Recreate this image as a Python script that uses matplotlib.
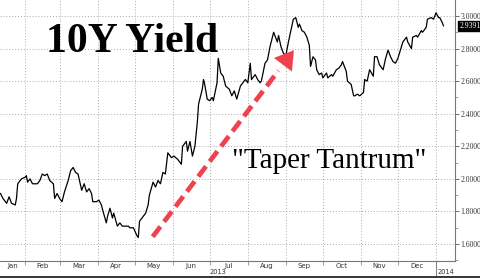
import matplotlib
matplotlib.use("Agg")
import matplotlib.pyplot as plt
import matplotlib.dates as mdates
import matplotlib.ticker as mticker
import matplotlib.transforms as mtrans
import pandas as pd

# days since 2013-01-01 and 10Y yield (%)
day = [11, 13, 16, 18, 20, 23, 24, 25, 28, 31,
       32, 33, 35, 37, 41, 43, 45, 47, 49, 51,
       54, 55, 57, 59, 61, 63, 66, 68, 70, 72,
       74, 77, 79, 81, 83, 85, 86, 89, 91, 93,
       94, 97, 98, 100, 102, 103, 106, 108, 110, 112,
       115, 116, 119, 122, 123, 124, 127, 129, 131, 132,
       135, 137, 139, 141, 143, 145, 147, 150, 152, 155,
       158, 159, 162, 163, 165, 167, 169, 171, 172, 175,
       176, 177, 179, 181, 183, 184, 187, 188, 190, 192,
       194, 197, 199, 201, 203, 206, 208, 210, 212, 214,
       215, 218, 220, 222, 223, 226, 228, 230, 232, 233,
       236, 237, 239, 241, 243, 245, 247, 249, 251, 253,
       254, 256, 258, 260, 262, 263, 265, 267, 268, 270,
       272, 273, 276, 277, 280, 281, 284, 286, 288, 289,
       292, 293, 296, 298, 299, 301, 303, 306, 307, 309,
       311, 314, 315, 317, 319, 320, 322, 324, 326, 328,
       330, 332, 334, 336, 338, 341, 342, 345, 346, 349,
       350, 353, 354, 357, 358, 361, 363, 365, 367, 368,
       370, 371]
yld = [1.91, 1.88, 1.85, 1.89, 1.85, 1.84, 1.88, 1.97, 2.00, 2.01,
       2.02, 1.98, 2.00, 1.97, 1.97, 1.99, 2.03, 2.02, 2.03, 1.99,
       1.97, 1.88, 1.91, 1.88, 1.86, 1.92, 1.99, 2.05, 2.07, 2.04,
       2.03, 1.93, 1.97, 1.92, 1.94, 1.91, 1.86, 1.86, 1.87, 1.84,
       1.81, 1.73, 1.77, 1.82, 1.76, 1.79, 1.71, 1.73, 1.71, 1.71,
       1.71, 1.70, 1.70, 1.65, 1.64, 1.74, 1.77, 1.79, 1.84, 1.90,
       1.98, 1.95, 1.99, 1.97, 2.04, 2.03, 2.16, 2.13, 2.14, 2.12,
       2.09, 2.20, 2.23, 2.17, 2.23, 2.14, 2.20, 2.35, 2.46, 2.55,
       2.61, 2.58, 2.49, 2.48, 2.50, 2.48, 2.59, 2.74, 2.65, 2.63,
       2.57, 2.55, 2.51, 2.54, 2.49, 2.57, 2.59, 2.61, 2.59, 2.71,
       2.61, 2.64, 2.61, 2.59, 2.60, 2.71, 2.73, 2.81, 2.87, 2.90,
       2.84, 2.88, 2.81, 2.77, 2.76, 2.84, 2.91, 2.98, 2.99, 2.93,
       2.95, 2.91, 2.90, 2.87, 2.82, 2.69, 2.75, 2.73, 2.67, 2.64,
       2.65, 2.62, 2.65, 2.62, 2.64, 2.63, 2.67, 2.68, 2.70, 2.72,
       2.66, 2.60, 2.58, 2.51, 2.51, 2.52, 2.51, 2.53, 2.61, 2.60,
       2.67, 2.63, 2.75, 2.75, 2.70, 2.69, 2.67, 2.74, 2.79, 2.75,
       2.72, 2.71, 2.74, 2.79, 2.84, 2.87, 2.84, 2.80, 2.87, 2.88,
       2.87, 2.91, 2.90, 2.93, 2.98, 2.99, 2.98, 3.02, 2.99, 2.99,
       2.96, 2.94]

months = ["Jan", "Feb", "Mar", "Apr", "May", "Jun",
          "Jul", "Aug", "Sep", "Oct", "Nov", "Dec"]
years = ["2013", "2014"]
last_label = "2.9391"
title = "10Y Yield"
note = "\"Taper Tantrum\""
# arrow: (days since 2013-01-01, yield) for tail and tip
arrow_tail = (134.7, 1.645)
arrow_tip = (249.5, 2.79)

base = pd.Timestamp("2013-01-01")
dates = base + pd.to_timedelta(day, unit="D")
x0 = mdates.date2num(base + pd.Timedelta(days=10.6))
x1 = mdates.date2num(base + pd.Timedelta(days=380.4))
bounds = mdates.date2num(pd.date_range("2013-02-01", "2014-01-01", freq="MS"))

fig = plt.figure(figsize=(4.8, 2.78), dpi=100)
ax = fig.add_axes([0, 17 / 278, 455 / 480, 261 / 278])

ax.plot(dates, yld, color="black", lw=0.9)
ax.set_xlim(x0, x1)
ax.set_ylim(1.496, 3.098)

# grid / spines
for s in ["top", "left"]:
    ax.spines[s].set_visible(False)
for s in ["right", "bottom"]:
    ax.spines[s].set_color("#777777")
    ax.spines[s].set_linewidth(0.8)
ax.grid(True, which="major", color="#aaaaaa", linestyle=(0, (1, 2)), lw=0.7)

# y axis on right
ax.yaxis.tick_right()
ax.yaxis.set_major_locator(mticker.MultipleLocator(0.2))
ax.yaxis.set_minor_locator(mticker.MultipleLocator(0.1))
ax.yaxis.set_major_formatter(mticker.FormatStrFormatter("%.4f"))
ax.tick_params(axis="y", which="major", length=3, width=0.6, color="#555555",
               labelsize=5.5, pad=1, labelcolor="#333333")
ax.tick_params(axis="y", which="minor", length=2, width=0.5, color="#777777")
for lab in ax.get_yticklabels():
    lab.set_family("Liberation Serif")

# x axis: ticks at month starts, labels centred in each month
ax.xaxis.set_major_locator(mticker.FixedLocator(bounds))
ax.xaxis.set_major_formatter(mticker.NullFormatter())
edges = [x0] + list(bounds)
mids = [(a + b) / 2 for a, b in zip(edges[:-1], edges[1:])]
ax.xaxis.set_minor_locator(mticker.FixedLocator(mids))
ax.xaxis.set_minor_formatter(mticker.FixedFormatter(months))
ax.tick_params(axis="x", which="major", length=3, width=0.5, color="#777777")
ax.tick_params(axis="x", which="minor", length=0, labelsize=5, pad=1.5,
               labelcolor="#333333")

trans = mtrans.blended_transform_factory(ax.transData, ax.transAxes)
ax.text((x0 + bounds[-1]) / 2, -0.043, years[0], transform=trans, ha="center",
        va="center", fontsize=4.8, color="#333333")
ax.text((bounds[-1] + x1) / 2, -0.043, years[1], transform=trans, ha="center",
        va="center", fontsize=4.8, color="#333333")
ax.plot([bounds[-1], bounds[-1]], [0, -0.07], transform=trans, clip_on=False,
        color="#888888", lw=0.8)

# last value badge
ax.annotate(last_label, xy=(1, yld[-1]),
            xycoords=mtrans.blended_transform_factory(ax.transAxes, ax.transData),
            xytext=(3, 0), textcoords="offset points", ha="left", va="center",
            fontsize=5.5, color="white", family="Liberation Serif",
            bbox=dict(boxstyle="square,pad=0.15", fc="black", ec="black"),
            annotation_clip=False)

# red dashed arrow
red = "#f0424e"
tx = mdates.date2num(base + pd.Timedelta(days=arrow_tail[0]))
hx = mdates.date2num(base + pd.Timedelta(days=arrow_tip[0]))
ax.plot([tx, tx + 0.89 * (hx - tx)],
        [arrow_tail[1], arrow_tail[1] + 0.89 * (arrow_tip[1] - arrow_tail[1])],
        color=red, lw=3.4, dashes=(2.7, 1.3), solid_capstyle="butt")
ax.annotate("", xy=(hx, arrow_tip[1]),
            xytext=(tx + 0.86 * (hx - tx),
                    arrow_tail[1] + 0.86 * (arrow_tip[1] - arrow_tail[1])),
            arrowprops=dict(arrowstyle="-|>,head_length=1.3,head_width=0.8",
                            color=red, lw=0.1, mutation_scale=10,
                            shrinkA=0, shrinkB=0))

# texts
ax.text(132 / 455, 0.80, title, transform=ax.transAxes, ha="center",
        va="baseline", fontsize=30, fontweight="bold", family="Liberation Serif")
ax.text(329 / 455, 0.356, note, transform=ax.transAxes, ha="center",
        va="baseline", fontsize=21, family="Liberation Serif")

# dark strip along the bottom edge
fig.add_artist(plt.Rectangle((0, 0), 1, 2 / 278, transform=fig.transFigure,
                             color="#3a3a3a", lw=0))

fig.savefig("out.png", dpi=100)
